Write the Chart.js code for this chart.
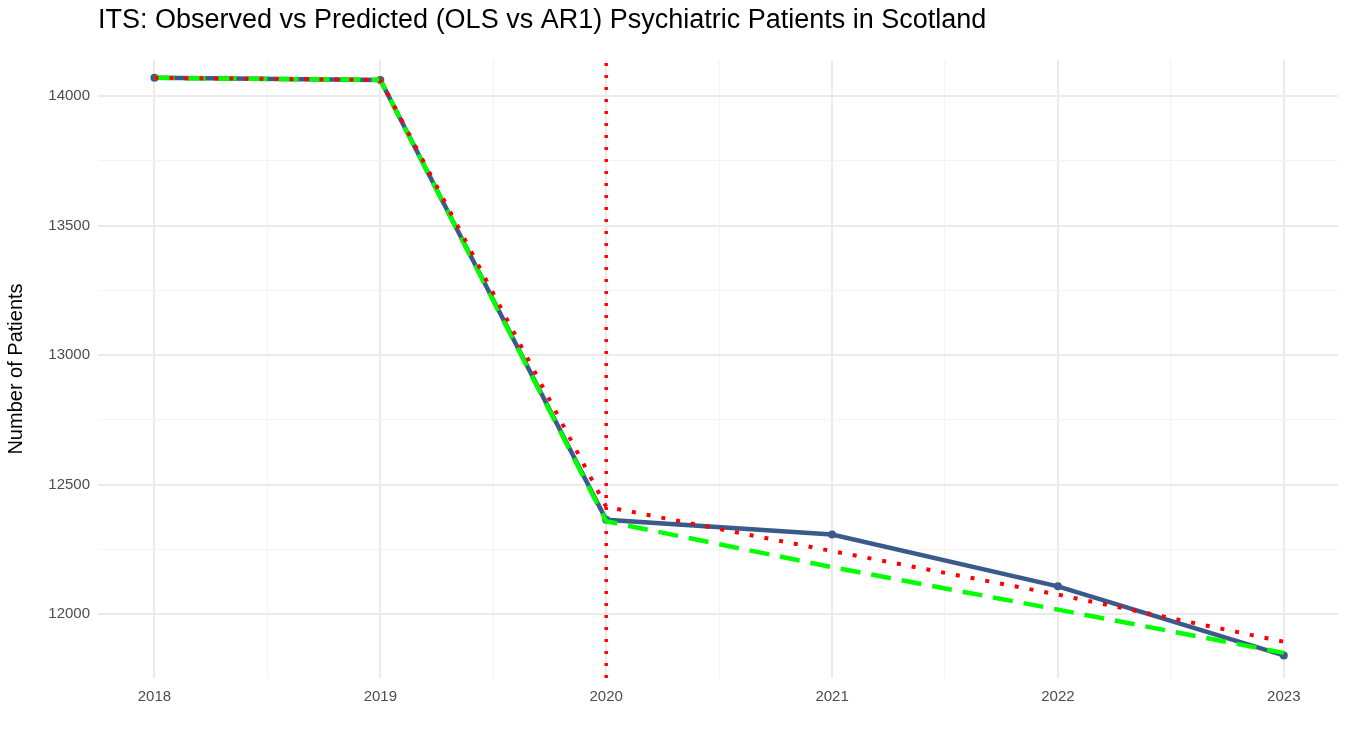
<!DOCTYPE html>
<html><head><meta charset="utf-8">
<script src="https://cdn.jsdelivr.net/npm/chart.js@4"></script>
<style>html,body{margin:0;padding:0;background:#fff}#c{display:block}</style>
</head><body>
<div style="width:1350px;height:750px"><canvas id="c"></canvas></div>
<script>
const years = [2018, 2019, 2020, 2021, 2022, 2023];
const observed = [14070, 14062, 12364, 12307, 12107, 11840];
const olsPred = [14070, 14062, 12414, 12243, 12075, 11893];
const ar1Pred = [14070, 14062, 12358, 12181, 12017, 11850];
const interventionYear = 2020;
const yMin = 11753, yMax = 14139;
const titleText = 'ITS: Observed vs Predicted (OLS vs AR1) Psychiatric Patients in Scotland';

const pts = a => years.map((x, i) => ({x, y: a[i]}));
const titlePlugin = {
  id: 'tp',
  afterDraw(ch) {
    const c = ch.ctx; c.save();
    c.font = '27px Arial, "Liberation Sans", sans-serif';
    c.fillStyle = '#000'; c.textBaseline = 'middle'; c.textAlign = 'left';
    c.fillText(titleText, 98, 21); c.restore();
  }
};
new Chart(document.getElementById('c'), {
  type: 'line',
  data: { datasets: [
    { label: 'Observed', data: pts(observed), borderColor: '#3b5a8c', backgroundColor: '#3b5a8c', borderWidth: 4.5, pointRadius: 4, pointBorderWidth: 0, order: 3 },
    { label: 'OLS', data: pts(olsPred), borderColor: '#ff0000', borderWidth: 4, borderDash: [4, 11], pointRadius: 0, order: 0 },
    { label: 'AR1', data: pts(ar1Pred), borderColor: '#00ff00', borderWidth: 4.5, borderDash: [20, 11], pointRadius: 0, order: 1 },
    { label: 'Intervention', data: [{x: interventionYear, y: yMin}, {x: interventionYear, y: yMax}], borderColor: '#ff0000', borderWidth: 3.5, borderDash: [3, 9], pointRadius: 0, order: 4 }
  ]},
  options: {
    responsive: true, maintainAspectRatio: false, animation: false,
    layout: { padding: { top: 60, right: 12, left: 0, bottom: 0 } },
    plugins: { legend: { display: false }, tooltip: { enabled: false } },
    scales: {
      x: { type: 'linear', min: 2017.75, max: 2023.24,
        afterBuildTicks(s) { s.ticks = []; for (let v = 2018; v <= 2023.01; v += 0.5) s.ticks.push({value: v}); },
        afterFit(s) { s.height = 72; },
        border: { display: false },
        grid: { color: c => (c.tick && Number.isInteger(c.tick.value)) ? '#ebebeb' : '#f4f4f4', lineWidth: c => (c.tick && Number.isInteger(c.tick.value)) ? 2 : 1, drawTicks: false },
        ticks: { padding: 10, color: '#4d4d4d', font: { size: 15, family: 'Arial, "Liberation Sans"' }, autoSkip: false, maxRotation: 0,
          callback: v => Number.isInteger(v) ? String(v) : '' } },
      y: { min: yMin, max: yMax,
        afterBuildTicks(s) { s.ticks = []; for (let v = 11750; v <= 14001; v += 250) if (v >= yMin) s.ticks.push({value: v}); },
        afterFit(s) { s.width = 98; },
        border: { display: false },
        grid: { color: c => (c.tick && c.tick.value % 500 === 0) ? '#ebebeb' : '#f4f4f4', lineWidth: c => (c.tick && c.tick.value % 500 === 0) ? 2 : 1, drawTicks: false },
        title: { display: true, text: 'Number of Patients', color: '#000', font: { size: 20, family: 'Arial, "Liberation Sans"' }, padding: { bottom: 4 } },
        ticks: { padding: 8, color: '#4d4d4d', font: { size: 15, family: 'Arial, "Liberation Sans"' },
          callback: v => v % 500 === 0 ? String(v) : '' } }
    }
  },
  plugins: [titlePlugin]
});
</script></body></html>
